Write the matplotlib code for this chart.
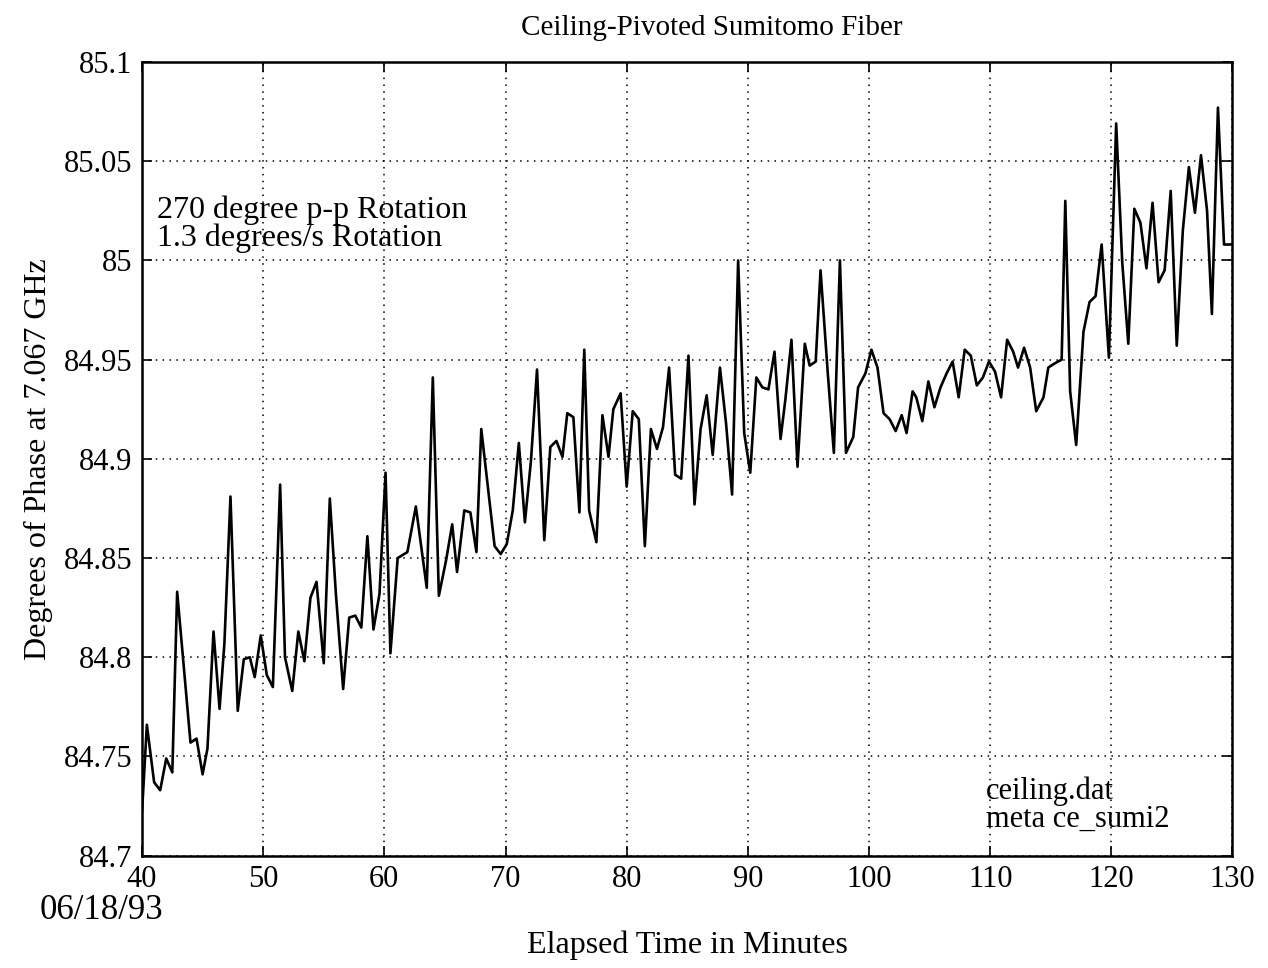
import matplotlib
matplotlib.use("Agg")
import matplotlib.pyplot as plt

# elapsed time (minutes) and phase (degrees)
minutes = [
    40.0, 40.4, 41.0, 41.5, 42.0, 42.5, 42.9, 44.0, 44.5, 45.0, 45.4, 45.9,
    46.4, 46.8, 47.0, 47.3, 47.9, 48.4, 48.9, 49.3, 49.8, 50.3, 50.8, 51.4,
    51.8, 52.4, 52.9, 53.4, 53.9, 54.4, 55.0, 55.5, 56.0, 56.6, 57.1, 57.6,
    58.1, 58.6, 59.1, 59.6, 60.1, 60.5, 61.1, 61.9, 62.6, 63.5, 64.0, 64.5,
    65.1, 65.6, 66.0, 66.6, 67.1, 67.6, 68.0, 68.6, 69.1, 69.6, 70.1, 70.6,
    71.1, 71.6, 72.1, 72.6, 73.2, 73.7, 74.2, 74.7, 75.1, 75.6, 76.1, 76.5,
    76.9, 77.5, 78.0, 78.5, 78.9, 79.5, 80.0, 80.5, 81.0, 81.5, 82.0, 82.5,
    83.0, 83.5, 84.0, 84.5, 85.1, 85.6, 86.1, 86.6, 87.1, 87.7, 88.2, 88.7,
    89.2, 89.7, 90.2, 90.7, 91.2, 91.7, 92.2, 92.7, 93.1, 93.6, 94.1, 94.7,
    95.1, 95.6, 96.0, 96.6, 97.1, 97.6, 98.1, 98.7, 99.1, 99.7, 100.2, 100.7,
    101.2, 101.7, 102.2, 102.7, 103.1, 103.6, 103.9, 104.4, 104.9, 105.4,
    105.9, 106.4, 106.9, 107.4, 107.9, 108.4, 108.9, 109.4, 109.9, 110.4,
    110.9, 111.4, 111.9, 112.3, 112.8, 113.3, 113.8, 114.4, 114.8, 115.3,
    115.9, 116.2, 116.6, 117.1, 117.7, 118.2, 118.7, 119.2, 119.8, 120.4,
    120.9, 121.4, 121.9, 122.4, 122.9, 123.4, 123.9, 124.4, 124.9, 125.4,
    125.9, 126.4, 126.9, 127.4, 127.9, 128.3, 128.8, 129.3, 130.0,
]
phase = [
    84.722, 84.766, 84.737, 84.733, 84.749, 84.742, 84.833, 84.757, 84.759,
    84.741, 84.754, 84.813, 84.774, 84.807, 84.837, 84.881, 84.773, 84.799,
    84.800, 84.790, 84.811, 84.791, 84.785, 84.887, 84.800, 84.783, 84.813,
    84.798, 84.830, 84.838, 84.797, 84.880, 84.832, 84.784, 84.820, 84.821,
    84.815, 84.861, 84.814, 84.832, 84.893, 84.802, 84.850, 84.853, 84.876,
    84.835, 84.941, 84.831, 84.849, 84.867, 84.843, 84.874, 84.873, 84.853,
    84.915, 84.883, 84.856, 84.852, 84.857, 84.874, 84.908, 84.868, 84.899,
    84.945, 84.859, 84.906, 84.909, 84.901, 84.923, 84.921, 84.873, 84.955,
    84.874, 84.858, 84.922, 84.901, 84.925, 84.933, 84.886, 84.924, 84.920,
    84.856, 84.915, 84.905, 84.916, 84.946, 84.892, 84.890, 84.952, 84.877,
    84.915, 84.932, 84.902, 84.946, 84.918, 84.882, 85.000, 84.913, 84.893,
    84.941, 84.936, 84.935, 84.954, 84.910, 84.930, 84.960, 84.896, 84.958,
    84.947, 84.949, 84.995, 84.943, 84.903, 85.000, 84.903, 84.911, 84.936,
    84.943, 84.955, 84.946, 84.923, 84.920, 84.914, 84.922, 84.913, 84.934,
    84.931, 84.919, 84.939, 84.926, 84.936, 84.943, 84.949, 84.931, 84.955,
    84.952, 84.937, 84.941, 84.949, 84.944, 84.931, 84.960, 84.954, 84.946,
    84.956, 84.946, 84.924, 84.931, 84.946, 84.948, 84.950, 85.030, 84.934,
    84.907, 84.964, 84.979, 84.982, 85.008, 84.951, 85.069, 84.999, 84.958,
    85.026, 85.019, 84.996, 85.029, 84.989, 84.995, 85.035, 84.957, 85.015,
    85.047, 85.024, 85.053, 85.025, 84.973, 85.077, 85.008, 85.008,
]

x_ticks = [40, 50, 60, 70, 80, 90, 100, 110, 120, 130]
y_ticks = [84.7, 84.75, 84.8, 84.85, 84.9, 84.95, 85.0, 85.05, 85.1]
y_tick_labels = ["84.7", "84.75", "84.8", "84.85", "84.9", "84.95", "85", "85.05", "85.1"]

plt.rcParams["font.family"] = ["Liberation Serif", "DejaVu Serif"]

fig = plt.figure(figsize=(12.68, 9.68), dpi=100)
ax = fig.add_axes([0.112, 0.116, 0.860, 0.820])

ax.plot(minutes, phase, color="black", linewidth=1.9)

ax.set_xlim(40, 130)
ax.set_ylim(84.7, 85.1)
ax.set_xticks(x_ticks)
ax.set_yticks(y_ticks)
ax.set_yticklabels(y_tick_labels)
ax.tick_params(direction="in", length=7, width=1.2, top=True, right=True,
               labelsize=22, pad=7)
ax.grid(True, color="black", linestyle=(0, (1, 3.5)), linewidth=1.1)
for sp in ax.spines.values():
    sp.set_linewidth(1.8)

fig.text(0.561, 0.971, "Ceiling-Pivoted Sumitomo Fiber", ha="center", va="center", fontsize=21)
ax.set_ylabel("Degrees of Phase at 7.067 GHz", fontsize=23, labelpad=8)
fig.text(0.542, 0.024, "Elapsed Time in Minutes", ha="center", va="center", fontsize=23)
fig.text(0.031, 0.059, "06/18/93", ha="left", va="center", fontsize=25)

ax.text(0.014, 0.832, "270 degree p-p Rotation\n1.3 degrees/s Rotation",
        transform=ax.transAxes, fontsize=23, va="top", linespacing=0.95)
ax.text(0.774, 0.100, "ceiling.dat\nmeta ce_sumi2",
        transform=ax.transAxes, fontsize=22, va="top", linespacing=0.95)

fig.savefig("out.png", dpi=100, facecolor="white")
